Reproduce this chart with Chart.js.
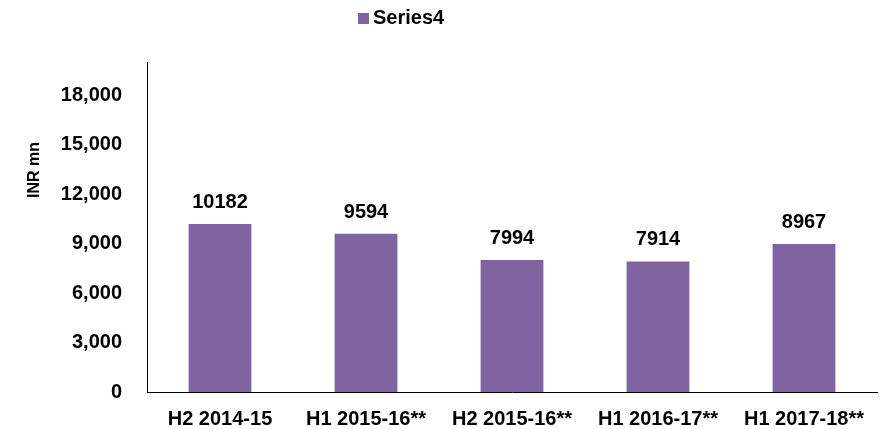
<!DOCTYPE html>
<html>
<head>
<meta charset="utf-8">
<script src="https://cdn.jsdelivr.net/npm/chart.js@4/dist/chart.umd.min.js"></script>
<style>
  body { margin: 0; background: #fff; }
  #wrap { width: 885px; height: 429px; }
</style>
</head>
<body>
<div id="wrap"><canvas id="myChart" width="885" height="429"></canvas></div>
<script>
var categories = ['H2 2014-15', 'H1 2015-16**', 'H2 2015-16**', 'H1 2016-17**', 'H1 2017-18**'];
var series4 = [10182, 9594, 7994, 7914, 8967];
var yTicks = [0, 3000, 6000, 9000, 12000, 15000, 18000];

var FONT = '"Liberation Sans", Arial, sans-serif';
var PURPLE = '#8064A2';

// legend, axis title and value labels drawn by hand
var extras = {
  id: 'extras',
  afterDatasetsDraw: function(chart) {
    var ctx = chart.ctx;
    var ds = chart.data.datasets[0];
    ctx.save();
    ctx.fillStyle = '#000';
    ctx.font = 'bold 20px ' + FONT;
    ctx.textAlign = 'center';
    ctx.textBaseline = 'alphabetic';
    chart.getDatasetMeta(0).data.forEach(function(bar, i) {
      ctx.fillText(String(ds.data[i]), bar.x, bar.y - 16);
    });

    // legend
    ctx.fillStyle = ds.backgroundColor;
    ctx.fillRect(358, 13, 11, 11);
    ctx.fillStyle = '#000';
    ctx.textAlign = 'left';
    ctx.fillText(ds.label, 373, 24);

    // y axis title
    ctx.font = 'bold 16px ' + FONT;
    ctx.translate(35, 170);
    ctx.rotate(-Math.PI / 2);
    ctx.textAlign = 'center';
    ctx.textBaseline = 'middle';
    ctx.fillText('INR mn', 0, 0);
    ctx.restore();
  }
};

var ctx = document.getElementById('myChart');
var chart = new Chart(ctx, {
  type: 'bar',
  data: {
    labels: categories,
    datasets: [{
      label: 'Series4',
      data: series4,
      backgroundColor: PURPLE,
      categoryPercentage: 1,
      barPercentage: 0.43
    }]
  },
  options: {
    responsive: false,
    animation: false,
    layout: { padding: { top: 62, right: 8, left: 0, bottom: 0 } },
    plugins: {
      legend: { display: false },
      tooltip: { enabled: false }
    },
    scales: {
      x: {
        grid: { display: false, drawTicks: false },
        border: { display: true, color: '#000', width: 1 },
        ticks: {
          color: '#000',
          font: { family: FONT, size: 20, weight: 'bold' },
          padding: 15,
          maxRotation: 0,
          autoSkip: false
        },
        afterFit: function(scale) { scale.height = 37; }
      },
      y: {
        min: 0,
        max: 20000,
        grid: { display: false, drawTicks: false },
        border: { display: true, color: '#000', width: 1 },
        ticks: {
          color: '#000',
          font: { family: FONT, size: 20, weight: 'bold' },
          padding: 25,
          stepSize: 3000,
          callback: function(v) { return v.toLocaleString('en-US'); }
        },
        afterBuildTicks: function(scale) {
          scale.ticks = yTicks.map(function(v) { return { value: v }; });
        },
        afterFit: function(scale) { scale.width = 147; }
      }
    }
  },
  plugins: [extras]
});
</script>
</body>
</html>
